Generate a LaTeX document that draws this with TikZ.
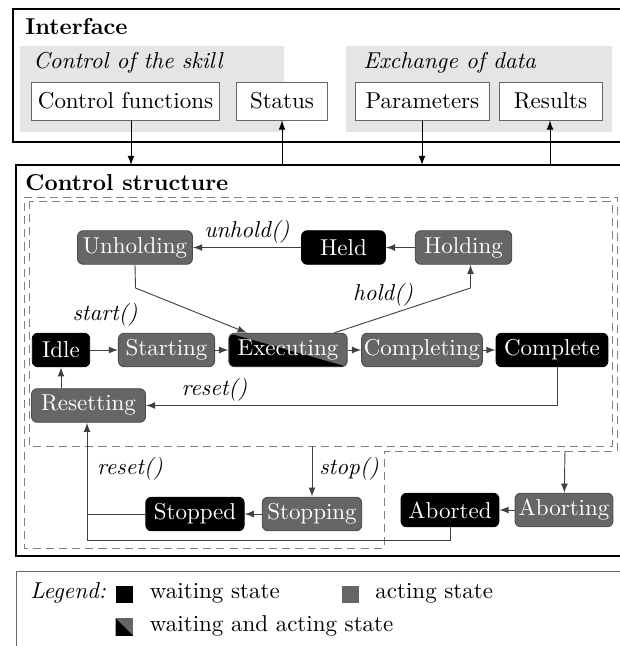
\documentclass[tikz,border=0pt]{standalone}
\usetikzlibrary{shapes}
\usetikzlibrary{arrows}
\definecolor{actgray}{gray}{0.4}
\definecolor{boxgray}{gray}{0.9}
\begin{document}
\begin{tikzpicture}[x=0.435pt,y=-0.435pt,>=latex]
	\tikzstyle{state}=[rectangle,rounded corners=2.5pt,minimum height=14.6pt,inner sep=1pt,text=white,draw=black!70]
	\tikzstyle{waiting}=[state,fill=black,draw=black]
	\tikzstyle{acting}=[state,fill=actgray]
	\tikzstyle{halffill}=[path picture={
		\fill[actgray] (path picture bounding box.south west) rectangle (path picture bounding box.north east);
		\fill[black] (path picture bounding box.north west) -- (path picture bounding box.south west) -- (path picture bounding box.south east) -- cycle;}]
	\tikzstyle{mixed}=[state,halffill]
	\tikzstyle{ifitem}=[rectangle,draw=black!60,fill=white,minimum height=16.5pt,inner sep=1pt]
	\tikzstyle{title}=[anchor=west,inner sep=0pt]
	\tikzstyle{trans}=[->,black!75]
	\tikzstyle{call}=[font=\itshape,inner sep=1pt]
	\tikzstyle{zone}=[black!50,dash pattern=on 3.5pt off 2.2pt]
	\tikzstyle{key}=[rectangle,minimum size=7.8pt,inner sep=0pt]

	\useasboundingbox (0,0) rectangle (620,646);
	\clip (0,0) rectangle (620,646);

	% interface
	\draw[line width=0.9pt] (13,9) rectangle (660,142);
	\node[title,font=\bfseries] (iftitle) at (25,27) {Interface};
	\fill[boxgray] (20,46) rectangle (284,132);
	\fill[boxgray] (346,46) rectangle (612,132);
	\node[title,font=\itshape] (ctrltitle) at (33,63) {Control of the skill};
	\node[title,font=\itshape] (datatitle) at (363,63) {Exchange of data};
	\node[ifitem,minimum width=82pt] (cf) at (125.5,101) {Control functions};
	\node[ifitem,minimum width=39.2pt] (status) at (282,101) {Status};
	\node[ifitem,minimum width=57.9pt] (params) at (422.5,101) {Parameters};
	\node[ifitem,minimum width=44.8pt] (results) at (550.5,101) {Results};

	% control structure
	\draw[line width=0.9pt] (16,165) rectangle (660,556);
	\node[title,font=\bfseries] (cstitle) at (25,183) {Control structure};
	\coordinate (cs1) at (131,165);
	\coordinate (cs2) at (282,165);
	\coordinate (cs3) at (422,165);
	\coordinate (cs4) at (550,165);
	\draw[->] (cf.south -| cs1) -- (cs1);
	\draw[->] (cs2) -- (status.south -| cs2);
	\draw[->] (params.south -| cs3) -- (cs3);
	\draw[->] (cs4) -- (results.south -| cs4);

	\draw[zone] (29,201) rectangle (612,446);
	\draw[zone] (24,197) -- (617,197) -- (617,451) -- (384,451) -- (384,548) -- (24,548) -- cycle;
	\coordinate (stopsrc) at (312,446);
	\coordinate (abortsrc) at (565,451);

	% states
	\node[acting,minimum width=50pt] (unholding) at (135,247.5) {Unholding};
	\node[waiting,minimum width=36.5pt] (held) at (343.5,247.5) {Held};
	\node[acting,minimum width=42pt] (holding) at (463.5,247.5) {Holding};
	\node[waiting,minimum width=25pt] (idle) at (61,350) {Idle};
	\node[acting,minimum width=41.8pt] (starting) at (166.5,350) {Starting};
	\node[mixed,minimum width=51.5pt] (executing) at (288,350) {Executing};
	\node[acting,minimum width=52.2pt] (completing) at (422,350) {Completing};
	\node[waiting,minimum width=48.7pt] (complete) at (552,350) {Complete};
	\node[acting,minimum width=49.6pt] (resetting) at (88.5,405.5) {Resetting};
	\node[waiting,minimum width=42.8pt] (stopped) at (195,514) {Stopped};
	\node[acting,minimum width=43.3pt] (stopping) at (312,514) {Stopping};
	\node[waiting,minimum width=42.6pt] (aborted) at (450,510) {Aborted};
	\node[acting,minimum width=42.6pt] (aborting) at (564,510) {Aborting};

	% transitions
	\coordinate (unh1) at (135.5,288);
	\coordinate (hold1) at (470.5,288);
	\coordinate (rst1) at (87,514);
	\coordinate (rst2) at (87,540);
	\draw[trans] (holding) -- (held);
	\draw[trans] (held) -- (unholding);
	\draw[trans] (unholding.south) -- (unh1) -- ([xshift=8pt]executing.north west);
	\draw[trans] ([xshift=-5.7pt]executing.north east) -- (hold1) -- (holding.south -| hold1);
	\draw[trans] (idle) -- (starting);
	\draw[trans] (starting) -- (executing);
	\draw[trans] (executing) -- (completing);
	\draw[trans] (completing) -- (complete);
	\draw[trans] (idle |- resetting.north) -- (idle.south);
	\draw[trans] ([xshift=2.4pt]complete.south) -- ([xshift=2.4pt]complete.south |- resetting.east) -- (resetting.east);
	\draw[trans] (stopsrc) -- (stopping);
	\draw[trans] (stopping) -- (stopped);
	\draw[trans] (abortsrc) -- (aborting);
	\draw[trans] (aborting) -- (aborted);
	\draw[black!75] (stopped.west) -- (rst1);
	\draw[trans] (aborted.south) -- (aborted.south |- rst2) -- (rst2) -- (rst2 |- resetting.south);

	\node[call] (lblunhold) at (247,232) {unhold()};
	\node[call] (lblhold) at (383,295) {hold()};
	\node[call] (lblstart) at (105,315) {start()};
	\node[call] (lblreset) at (214.5,390) {reset()};
	\node[call] (lblreset2) at (130,469) {reset()};
	\node[call] (lblstop) at (349,469) {stop()};

	% legend
	\draw[black!60] (16,571) rectangle (660,670);
	\node[title,font=\itshape] (legend) at (30,593) {Legend:};
	\node[key,fill=black] (kwait) at (124.5,594.5) {};
	\node[title] (twait) at (149.5,593) {waiting state};
	\node[key,fill=actgray] (kact) at (350.5,594.5) {};
	\node[title] (tact) at (375,593) {acting state};
	\node[key,halffill] (kmix) at (124.5,627) {};
	\node[title] (tmix) at (149.5,626) {waiting and acting state};
\end{tikzpicture}
\end{document}
